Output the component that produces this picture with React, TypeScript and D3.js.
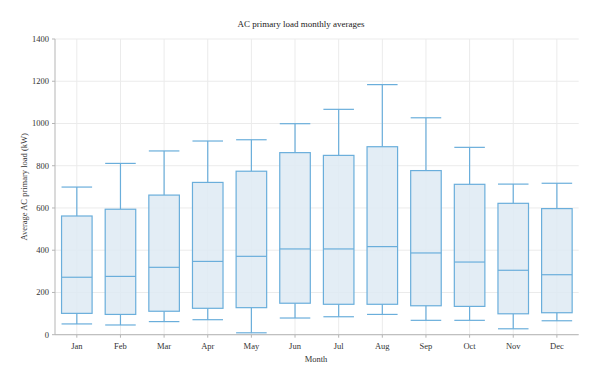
import React from "react";
import * as d3 from "d3";

const months = ["Jan", "Feb", "Mar", "Apr", "May", "Jun", "Jul", "Aug", "Sep", "Oct", "Nov", "Dec"];
const mins = [51, 46, 62, 71, 9, 79, 85, 96, 68, 68, 28, 66];
const q1s = [101, 96, 111, 125, 128, 149, 144, 144, 137, 134, 99, 104];
const medians = [272, 276, 319, 347, 371, 406, 406, 417, 387, 344, 305, 284];
const q3s = [562, 594, 661, 721, 774, 862, 849, 890, 777, 712, 622, 597];
const maxs = [699, 811, 870, 917, 923, 999, 1067, 1184, 1027, 887, 713, 717];
const yTicks = [0, 200, 400, 600, 800, 1000, 1200, 1400];

const W = 600, H = 383;
const left = 55, right = 578.7, top = 39, bottom = 334.7;
const font = "'Liberation Serif', 'DejaVu Serif', serif";
const stroke = "#6aaedb";
const fill = "#deeaf3";

export default function App() {
  const x = d3.scaleBand<string>().domain(months).range([left, right]).padding(0);
  const y = d3.scaleLinear().domain([0, 1400]).range([bottom, top]);
  const bw = x.bandwidth();
  const boxW = bw * 0.7;
  const capW = bw * 0.7;
  return (
    <svg width={W} height={H} style={{ position: "absolute", left: 0, top: 0, background: "#fff" }} fontFamily={font}>
      {/* grid */}
      {yTicks.map((t) => (
        <line key={"gy" + t} x1={left} x2={right} y1={y(t)} y2={y(t)} stroke="#ebebeb" strokeWidth={1} />
      ))}
      {months.map((m) => (
        <line key={"gx" + m} x1={x(m)! + bw / 2} x2={x(m)! + bw / 2} y1={top} y2={bottom} stroke="#ebebeb" strokeWidth={1} />
      ))}
      {/* boxes */}
      {months.map((m, i) => {
        const cx = x(m)! + bw / 2;
        return (
          <g key={m} stroke={stroke} strokeWidth={1.2}>
            <line x1={cx} x2={cx} y1={y(maxs[i])} y2={y(q3s[i])} />
            <line x1={cx} x2={cx} y1={y(q1s[i])} y2={y(mins[i])} />
            <line x1={cx - capW / 2} x2={cx + capW / 2} y1={y(maxs[i])} y2={y(maxs[i])} />
            <line x1={cx - capW / 2} x2={cx + capW / 2} y1={y(mins[i])} y2={y(mins[i])} />
            <rect x={cx - boxW / 2} width={boxW} y={y(q3s[i])} height={y(q1s[i]) - y(q3s[i])} fill={fill} fillOpacity={0.85} />
            <line x1={cx - boxW / 2} x2={cx + boxW / 2} y1={y(medians[i])} y2={y(medians[i])} />
          </g>
        );
      })}
      {/* axes */}
      <line x1={left} x2={left} y1={top} y2={bottom} stroke="#b5b5b5" strokeWidth={1} />
      <line x1={left} x2={right} y1={bottom} y2={bottom} stroke="#b5b5b5" strokeWidth={1} />
      {yTicks.map((t) => (
        <g key={"yt" + t}>
          <line x1={left - 3} x2={left} y1={y(t)} y2={y(t)} stroke="#b5b5b5" />
          <text x={left - 6} y={y(t)} dy="0.33em" textAnchor="end" fontSize={8.5} fill="#333">{t}</text>
        </g>
      ))}
      {months.map((m) => (
        <g key={"xt" + m}>
          <line x1={x(m)! + bw / 2} x2={x(m)! + bw / 2} y1={bottom} y2={bottom + 3} stroke="#b5b5b5" />
          <text x={x(m)! + bw / 2} y={bottom + 14} textAnchor="middle" fontSize={8.5} fill="#333">{m}</text>
        </g>
      ))}
      <text x={301} y={27} textAnchor="middle" fontSize={9} fill="#222">AC primary load monthly averages</text>
      <text x={316} y={362} textAnchor="middle" fontSize={8.5} fill="#333">Month</text>
      <text transform={`translate(27, ${(top + bottom) / 2}) rotate(-90)`} textAnchor="middle" fontSize={8.5} fill="#333">Average AC primary load (kW)</text>
    </svg>
  );
}
